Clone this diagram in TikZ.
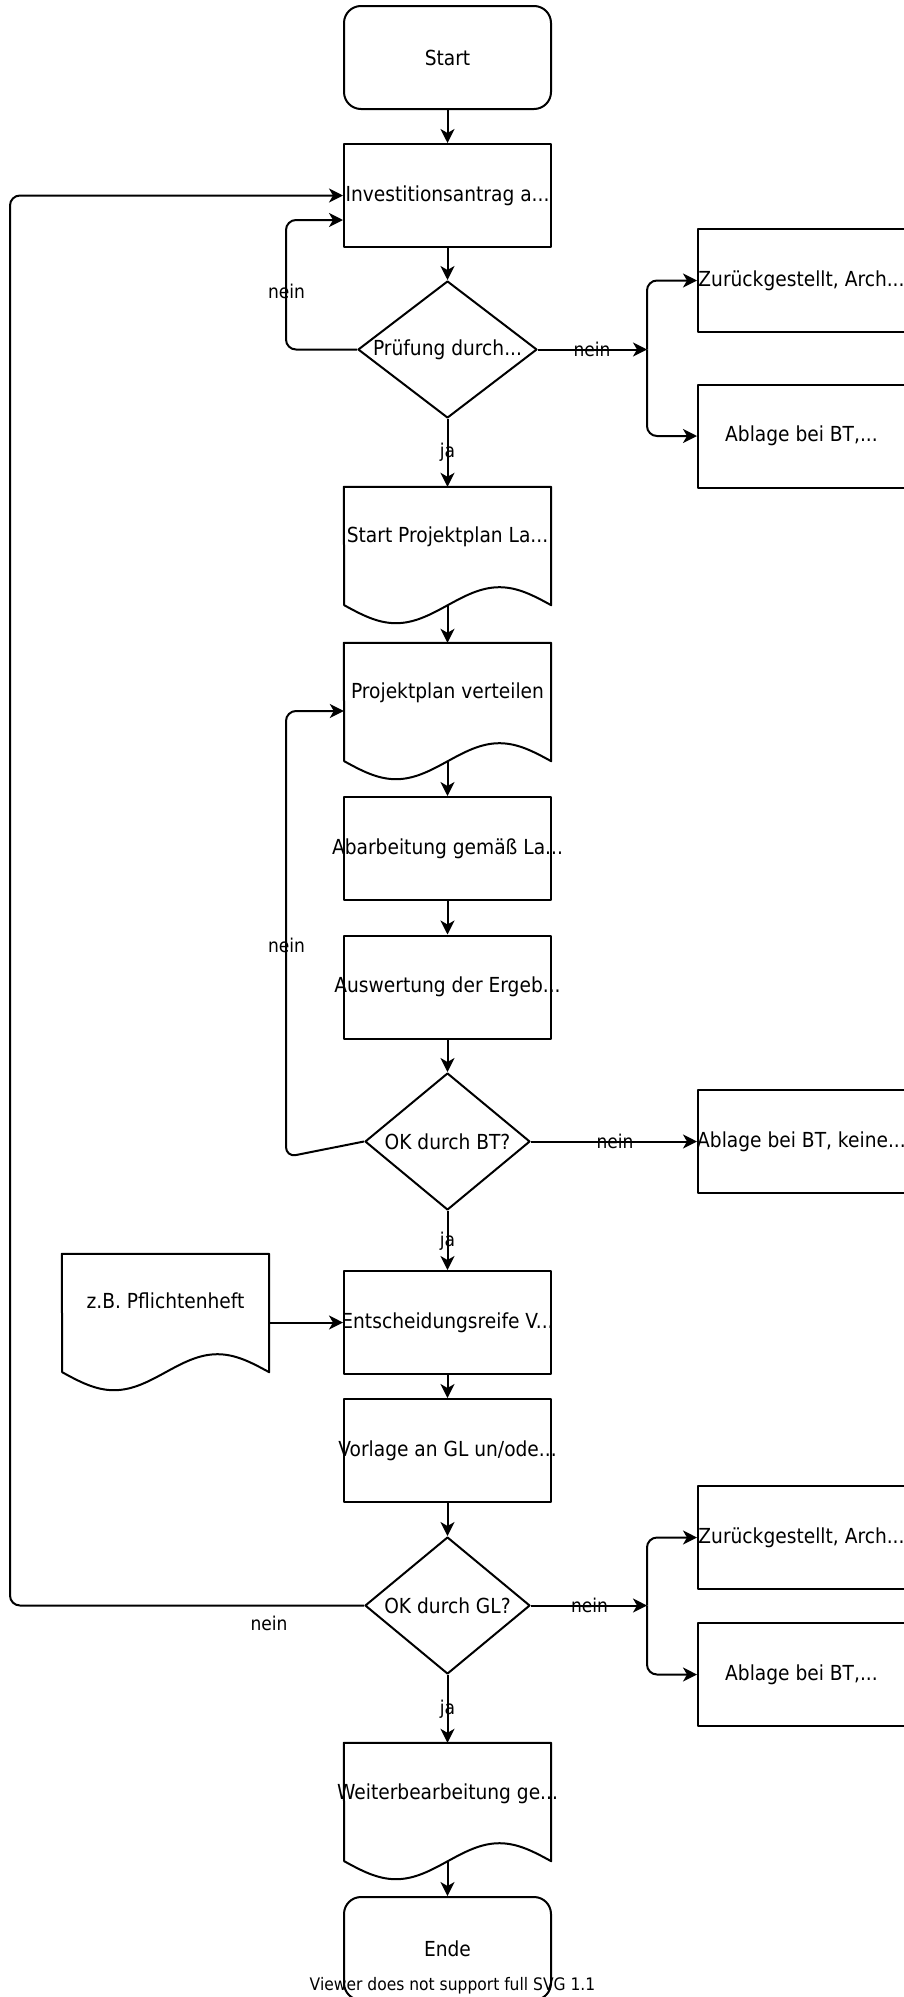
\documentclass[tikz,border=0pt]{standalone}
\usepackage{fontspec}
\setmainfont{DejaVu Sans}[FakeStretch=0.9]
\usetikzlibrary{shapes.geometric, arrows.meta}
\newcommand\mk[1]{\makebox[0pt]{#1}}
\newcommand\dn[2]{\raisebox{-#1}[\height][\depth]{#2}}
\newcommand\boxfont{\fontsize{20.7}{24}\selectfont}
\newcommand\lblfont{\fontsize{19}{22}\selectfont}
\begin{document}
\begin{tikzpicture}[x=1pt,y=-1pt,
  ln/.style={line width=2pt, line join=round},
  box/.style={draw, ln, minimum width=207pt, minimum height=103pt, inner sep=0pt, font=\boxfont},
  term/.style={box, rounded corners=17pt},
  dec/.style={draw, ln, diamond, inner sep=0pt, font=\boxfont, minimum height=137pt},
  docn/.style={inner sep=0pt, minimum width=207pt, minimum height=94pt, font=\boxfont},
  arr/.style={ln, -{Stealth[length=14pt,width=14pt,inset=4pt]}, rounded corners=10pt},
  lbl/.style={font=\lblfont, inner sep=0pt},
]
\useasboundingbox (0,0) rectangle (904,1997);
\clip (0,0) rectangle (904,1997);
\fill[white] (0,0) rectangle (904,1997);

% nodes
\node[term] (start) at (447.5,57.5) {\mk{Start}};
\node[box] (inv) at (447.5,195.5) {\mk{Investitionsantrag a...}};
\node[dec, minimum width=179pt] (d1) at (447.5,349.5) {\mk{Prüfung durch...}};
\node[box] (z1) at (801.5,280.5) {\mk{Zurückgestellt, Arch...}};
\node[box] (a1) at (801.5,436) {\mk{Ablage bei BT,...}};
\node[docn] (p1) at (447.5,534) {\mk{\dn{3pt}{Start Projektplan La...}}};
\node[docn] (p2) at (447.5,690) {\mk{\dn{3pt}{Projektplan verteilen}}};
\node[box] (abar) at (447.5,848.5) {\mk{Abarbeitung gemäß La...}};
\node[box] (ausw) at (447.5,987) {\mk{Auswertung der Ergeb...}};
\node[dec, minimum width=165pt] (dbt) at (447.5,1141.5) {\mk{OK durch BT?}};
\node[box] (ablk) at (801.5,1141.5) {\mk{Ablage bei BT, keine...}};
\node[box] (ent) at (447.5,1322.5) {\mk{Entscheidungsreife V...}};
\node[docn] (pfl) at (165.5,1301) {\mk{z.B. Pflichtenheft}};
\node[box] (vor) at (447.5,1450.5) {\mk{Vorlage an GL un/ode...}};
\node[dec, minimum width=165pt] (dgl) at (447.5,1605.5) {\mk{OK durch GL?}};
\node[box] (z2) at (801.5,1537.5) {\mk{Zurückgestellt, Arch...}};
\node[box] (a2) at (801.5,1674.5) {\mk{Ablage bei BT,...}};
\node[docn] (wb) at (447.5,1790) {\mk{\dn{4pt}{Weiterbearbeitung ge...}}};
\node[term] (ende) at (447.5,1948.5) {\mk{Ende}};

% document outlines
\foreach \n in {p1,p2,pfl,wb}
  \draw[ln] (\n.north west) -- (\n.north east) -- ([yshift=-24pt]\n.south east)
    sin ++(-51.75,-18) cos ++(-51.75,18) sin ++(-51.75,18) cos ++(-51.75,-18) -- cycle;

\coordinate (p1b) at ([yshift=-24pt]p1.south);
\coordinate (p2b) at ([yshift=-24pt]p2.south);
\coordinate (wbb) at ([yshift=-24pt]wb.south);

% connectors
\draw[arr] (start.south) -- (inv.north);
\draw[arr] (inv.south) -- (d1.north);
\coordinate (c1a) at (286,349.5);
\coordinate (c1b) at (286,220);
\draw[arr] (d1.west) -- (c1a) -- (c1b) -- (c1b -| inv.west);
\coordinate (j1) at (647,349.5);
\draw[arr] (d1.east) -- (j1);
\draw[arr] (j1) |- (z1.west);
\draw[arr] (j1) |- (a1.west);
\draw[arr] (d1.south) -- (p1.north);
\draw[arr] (p1b) -- (p2.north);
\draw[arr] (p2b) -- (abar.north);
\draw[arr] (abar.south) -- (ausw.north);
\draw[arr] (ausw.south) -- (dbt.north);
\coordinate (c2a) at (286,1157);
\coordinate (c2b) at (286,711);
\draw[arr] (dbt.west) -- (c2a) -- (c2b) -- (c2b -| p2.west);
\draw[arr] (dbt.east) -- (ablk.west);
\draw[arr] (dbt.south) -- (ent.north);
\draw[arr] (pfl.east |- ent.west) -- (ent.west);
\draw[arr] (ent.south) -- (vor.north);
\draw[arr] (vor.south) -- (dgl.north);
\coordinate (c3a) at (10,1605.5);
\coordinate (c3b) at (10,195.5);
\draw[arr] (dgl.west) -- (c3a) -- (c3b) -- (inv.west);
\coordinate (j2) at (647,1605.5);
\draw[arr] (dgl.east) -- (j2);
\draw[arr] (j2) |- (z2.west);
\draw[arr] (j2) |- (a2.west);
\draw[arr] (dgl.south) -- (wb.north);
\draw[arr] (wbb) -- (ende.north);

% labels
\node[lbl] (l1) at (286.5,291.5) {nein};
\node[lbl] (l2) at (592,349.5) {nein};
\node[lbl] (l3) at (447.5,452) {ja};
\node[lbl] (l4) at (286.5,945) {nein};
\node[lbl] (l5) at (615,1141.5) {nein};
\node[lbl] (l6) at (447.5,1241) {ja};
\node[lbl] (l7) at (269,1623) {nein};
\node[lbl] (l8) at (589.5,1605.5) {nein};
\node[lbl] (l9) at (447.5,1709) {ja};
\node[font=\fontsize{17.25}{20}\selectfont, inner sep=0pt] (viewer) at (452.5,1986) {Viewer does not support full SVG 1.1};
\end{tikzpicture}
\end{document}
